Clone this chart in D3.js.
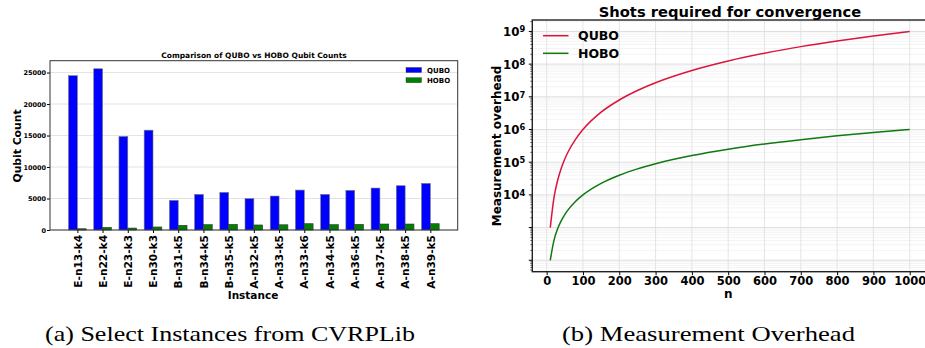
<!DOCTYPE html>
<html>
<head>
<meta charset="utf-8">
<script src="https://cdn.jsdelivr.net/npm/d3@7"></script>
<style>
  body { margin: 0; background: #fff; }
  svg { display: block; }
  text { font-family: "DejaVu Sans", sans-serif; font-weight: bold; fill: #000; }
  .caption { font-family: "Liberation Serif", serif; font-weight: normal; }
</style>
</head>
<body>
<div id="container"></div>
<script>
// --- left panel: qubit counts per instance
const instances = ['E-n13-k4', 'E-n22-k4', 'E-n23-k3', 'E-n30-k3', 'B-n31-k5', 'B-n34-k5', 'B-n35-k5',
  'A-n32-k5', 'A-n33-k5', 'A-n33-k6', 'A-n34-k5', 'A-n36-k5', 'A-n37-k5', 'A-n38-k5', 'A-n39-k5'];
const quboQubits = [24500, 25600, 14850, 15850, 4700, 5650, 5970, 4970, 5390, 6340, 5650, 6290, 6660, 7030, 7400];
const hoboQubits = [200, 420, 310, 480, 740, 850, 900, 800, 830, 1000, 850, 900, 950, 950, 1000];
const qubitTicks = [0, 5000, 10000, 15000, 20000, 25000];

// --- right panel: shots required vs n
const nValues = [10, 20, 30, 40, 50, 60, 80, 100, 150, 200, 250, 300, 400, 500, 600, 700, 800, 900, 1000];
const quboShots = [1e3, 8e3, 2.7e4, 6.4e4, 1.25e5, 2.16e5, 5.1e5, 1e6, 3.4e6, 8e6, 1.56e7, 2.7e7, 6.4e7,
  1.25e8, 2.16e8, 3.43e8, 5.12e8, 7.29e8, 1e9];
const hoboShots = [100, 400, 900, 1600, 2500, 3600, 6400, 1e4, 2.25e4, 4e4, 6.25e4, 9e4, 1.6e5,
  2.5e5, 3.6e5, 4.9e5, 6.4e5, 8.1e5, 1e6];
const nTicks = [0, 100, 200, 300, 400, 500, 600, 700, 800, 900, 1000];
const labelledDecades = [4, 5, 6, 7, 8, 9];

const width = 925;
const height = 348;

const svg = d3.select('#container').append('svg').attr('width', width).attr('height', height);

// ================= left bar chart =================
const barW = 0.35;
const lx = d3.scaleLinear().domain([-1.085, instances.length - 1 + 1.085]).range([50, 457.7]);
const ly = d3.scaleLinear().domain([0, 26880]).range([230, 60.7]);

const left = svg.append('g');

left.append('g').selectAll('line')
  .data(qubitTicks)
  .enter().append('line')
  .attr('x1', 50).attr('x2', 457.7)
  .attr('y1', d => ly(d)).attr('y2', d => ly(d))
  .attr('stroke', '#dcdcdc').attr('stroke-width', 0.8);

left.append('g').selectAll('rect')
  .data(quboQubits)
  .enter().append('rect')
  .attr('x', (d, i) => lx(i - barW))
  .attr('width', lx(barW) - lx(0))
  .attr('y', d => ly(d))
  .attr('height', d => ly(0) - ly(d))
  .attr('fill', '#0000ff').attr('stroke', '#777').attr('stroke-width', 0.6);

left.append('g').selectAll('rect')
  .data(hoboQubits)
  .enter().append('rect')
  .attr('x', (d, i) => lx(i))
  .attr('width', lx(barW) - lx(0))
  .attr('y', d => ly(d))
  .attr('height', d => ly(0) - ly(d))
  .attr('fill', '#008000').attr('stroke', '#333').attr('stroke-width', 0.6);

const lxAxis = left.append('g')
  .attr('transform', 'translate(0,230)')
  .call(d3.axisBottom(lx).tickValues(d3.range(instances.length)).tickFormat(i => instances[i]).tickSize(3).tickSizeOuter(0));
lxAxis.select('.domain').remove();
lxAxis.selectAll('text')
  .attr('transform', 'rotate(-90)')
  .attr('x', -5).attr('y', 0).attr('dy', '0.35em')
  .style('text-anchor', 'end')
  .style('font-size', '10.6px');

const lyAxis = left.append('g')
  .attr('transform', 'translate(50,0)')
  .call(d3.axisLeft(ly).tickValues(qubitTicks).tickFormat(d3.format('d')).tickSize(3).tickSizeOuter(0));
lyAxis.select('.domain').remove();
lyAxis.selectAll('text').style('font-size', '6.5px').attr('x', -4);

left.append('rect')
  .attr('x', 50).attr('y', 60.7).attr('width', 407.7).attr('height', 169.3)
  .attr('fill', 'none').attr('stroke', '#333').attr('stroke-width', 1);

left.append('text')
  .attr('x', 254).attr('y', 57.5).attr('text-anchor', 'middle')
  .style('font-size', '7.5px')
  .text('Comparison of QUBO vs HOBO Qubit Counts');

left.append('text')
  .attr('transform', 'translate(20.5,146) rotate(-90)')
  .attr('text-anchor', 'middle')
  .style('font-size', '10.8px')
  .text('Qubit Count');

left.append('text')
  .attr('x', 253).attr('y', 299).attr('text-anchor', 'middle')
  .style('font-size', '10.5px')
  .text('Instance');

const lLegend = left.append('g');
[['QUBO', '#0000ff'], ['HOBO', '#008000']].forEach((s, i) => {
  lLegend.append('rect')
    .attr('x', 406).attr('y', 67.5 + i * 10.2).attr('width', 15.5).attr('height', 5)
    .attr('fill', s[1]).attr('stroke', '#333').attr('stroke-width', 0.4);
  lLegend.append('text')
    .attr('x', 427).attr('y', 72.7 + i * 10.2)
    .style('font-size', '7px')
    .text(s[0]);
});

// ================= right log chart =================
const rx = d3.scaleLinear().domain([-39.5, 1049.5]).range([532.3, 927.7]);
const ry = d3.scaleLog().domain([Math.pow(10, 1.65), Math.pow(10, 9.35)]).range([271.7, 20]);

const right = svg.append('g');

const minorVals = [];
for (let e = 1; e <= 9; e++) {
  for (let m = 2; m <= 9; m++) {
    const v = m * Math.pow(10, e);
    if (v >= ry.domain()[0] && v <= ry.domain()[1]) minorVals.push(v);
  }
}
const majorVals = d3.range(2, 10).map(e => Math.pow(10, e));

right.append('g').selectAll('line')
  .data(minorVals)
  .enter().append('line')
  .attr('x1', 532.3).attr('x2', 927.7)
  .attr('y1', d => ry(d)).attr('y2', d => ry(d))
  .attr('stroke', '#ececec').attr('stroke-width', 0.6);

right.append('g').selectAll('line')
  .data(majorVals)
  .enter().append('line')
  .attr('x1', 532.3).attr('x2', 927.7)
  .attr('y1', d => ry(d)).attr('y2', d => ry(d))
  .attr('stroke', '#d6d6d6').attr('stroke-width', 0.8);

right.append('g').selectAll('line')
  .data(nTicks)
  .enter().append('line')
  .attr('x1', d => rx(d)).attr('x2', d => rx(d))
  .attr('y1', 20).attr('y2', 271.7)
  .attr('stroke', '#dedede').attr('stroke-width', 0.8);

const line = d3.line()
  .x(d => rx(d[0]))
  .y(d => ry(d[1]))
  .curve(d3.curveMonotoneX);

right.append('path')
  .datum(nValues.map((n, i) => [n, quboShots[i]]))
  .attr('d', line)
  .attr('fill', 'none').attr('stroke', '#dc143c').attr('stroke-width', 1.5);

right.append('path')
  .datum(nValues.map((n, i) => [n, hoboShots[i]]))
  .attr('d', line)
  .attr('fill', 'none').attr('stroke', '#0f780f').attr('stroke-width', 1.5);

const rxAxis = right.append('g')
  .attr('transform', 'translate(0,271.7)')
  .call(d3.axisBottom(rx).tickValues(nTicks).tickFormat(d3.format('d')).tickSize(3.5).tickSizeOuter(0));
rxAxis.select('.domain').remove();
rxAxis.selectAll('text').style('font-size', '11.5px').attr('y', 5.5);

const ryAxis = right.append('g').attr('transform', 'translate(532.3,0)');
ryAxis.selectAll('.major')
  .data(majorVals)
  .enter().append('line')
  .attr('x1', -3.5).attr('x2', 0)
  .attr('y1', d => ry(d)).attr('y2', d => ry(d))
  .attr('stroke', '#000');
ryAxis.selectAll('.minor')
  .data(minorVals)
  .enter().append('line')
  .attr('x1', -2).attr('x2', 0)
  .attr('y1', d => ry(d)).attr('y2', d => ry(d))
  .attr('stroke', '#000').attr('stroke-width', 0.6);
const decLabel = ryAxis.selectAll('.lab')
  .data(labelledDecades)
  .enter().append('text')
  .attr('x', -7).attr('y', d => ry(Math.pow(10, d)))
  .attr('dy', '0.38em')
  .attr('text-anchor', 'end')
  .style('font-size', '11.8px');
decLabel.append('tspan').text('10');
decLabel.append('tspan').attr('dy', '-0.45em').style('font-size', '8.3px').text(d => d);

right.append('rect')
  .attr('x', 532.3).attr('y', 20).attr('width', 395.4).attr('height', 251.7)
  .attr('fill', 'none').attr('stroke', '#222').attr('stroke-width', 1.4);

right.append('text')
  .attr('x', 730).attr('y', 17).attr('text-anchor', 'middle')
  .style('font-size', '14.7px')
  .text('Shots required for convergence');

right.append('text')
  .attr('transform', 'translate(500.5,146) rotate(-90)')
  .attr('text-anchor', 'middle')
  .style('font-size', '12px')
  .text('Measurement overhead');

right.append('text')
  .attr('x', rx(500)).attr('y', 298).attr('text-anchor', 'middle')
  .style('font-size', '12px')
  .text('n');

const rLegend = right.append('g');
[['QUBO', '#dc143c'], ['HOBO', '#0f780f']].forEach((s, i) => {
  rLegend.append('line')
    .attr('x1', 543).attr('x2', 568.5)
    .attr('y1', 35.7 + i * 17.6).attr('y2', 35.7 + i * 17.6)
    .attr('stroke', s[1]).attr('stroke-width', 1.5);
  rLegend.append('text')
    .attr('x', 578).attr('y', 40.2 + i * 17.6)
    .style('font-size', '12.5px')
    .text(s[0]);
});

// ================= captions =================
svg.append('text').attr('class', 'caption')
  .attr('x', 45).attr('y', 341)
  .attr('textLength', 370).attr('lengthAdjust', 'spacingAndGlyphs')
  .style('font-size', '21px')
  .text('(a) Select Instances from CVRPLib');

svg.append('text').attr('class', 'caption')
  .attr('x', 562).attr('y', 341)
  .attr('textLength', 293).attr('lengthAdjust', 'spacingAndGlyphs')
  .style('font-size', '21px')
  .text('(b) Measurement Overhead');
</script>
</body>
</html>
